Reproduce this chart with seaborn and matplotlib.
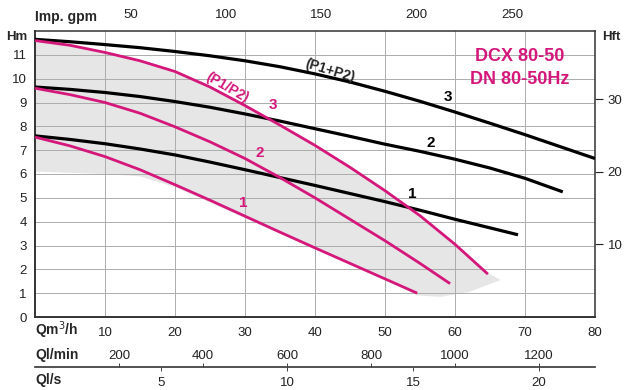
import numpy as np
import pandas as pd
import matplotlib
matplotlib.use("Agg")
import matplotlib.pyplot as plt
import seaborn as sns

# ---------------- data ----------------
q_black3 = [0, 5, 10, 15, 20, 25, 30, 35, 40, 45, 50, 55, 60, 65, 70, 75, 80]
h_black3 = [11.65, 11.55, 11.43, 11.3, 11.14, 10.96, 10.75, 10.5, 10.2, 9.86, 9.47, 9.05, 8.6, 8.13, 7.65, 7.15, 6.65]
q_black2 = [0, 5, 10, 15, 20, 25, 30, 35, 40, 45, 50, 55, 60, 65, 70, 75.4]
h_black2 = [9.65, 9.55, 9.42, 9.25, 9.04, 8.8, 8.52, 8.22, 7.9, 7.58, 7.25, 6.95, 6.62, 6.25, 5.82, 5.25]
q_black1 = [0, 5, 10, 15, 20, 25, 30, 35, 40, 45, 50, 55, 60, 65, 69]
h_black1 = [7.6, 7.45, 7.27, 7.05, 6.8, 6.5, 6.18, 5.85, 5.52, 5.18, 4.84, 4.48, 4.1, 3.74, 3.45]

q_pink3 = [0, 5, 10, 15, 20, 25, 30, 35, 40, 45, 50, 55, 60, 64.7]
h_pink3 = [11.6, 11.4, 11.1, 10.75, 10.3, 9.65, 8.87, 8.05, 7.2, 6.28, 5.3, 4.25, 3.05, 1.8]
q_pink2 = [0, 5, 10, 15, 20, 25, 30, 35, 40, 45, 50, 55, 59.3]
h_pink2 = [9.6, 9.33, 9.0, 8.55, 7.98, 7.35, 6.65, 5.85, 5.0, 4.1, 3.2, 2.25, 1.4]
q_pink1 = [0, 5, 10, 15, 20, 25, 30, 35, 40, 45, 50, 54.6]
h_pink1 = [7.55, 7.18, 6.73, 6.18, 5.55, 4.9, 4.23, 3.56, 2.9, 2.25, 1.6, 1.0]

# shaded operating area (upper edge then lower edge)
shade_upper_q = [0, 5, 10, 15, 20, 25, 30, 35, 40, 45, 50, 55, 60, 64.7, 66.5]
shade_upper_h = [11.62, 11.43, 11.14, 10.8, 10.35, 9.7, 8.92, 8.1, 7.25, 6.33, 5.35, 4.3, 3.1, 1.85, 1.55]
shade_lower_q = [0, 10, 15, 20, 30, 40, 50, 54.6, 58, 62]
shade_lower_h = [6.1, 6.0, 5.9, 5.45, 4.15, 2.85, 1.55, 0.9, 0.85, 1.05]

q_ticks = [10, 20, 30, 40, 50, 60, 70, 80]
h_ticks = list(range(0, 12))
hft_ticks = [10, 20, 30]
gpm_ticks = [50, 100, 150, 200, 250]
lmin_ticks = [200, 400, 600, 800, 1000, 1200]
ls_ticks = [5, 10, 15, 20]

black_curves = {"3": (q_black3, h_black3), "2": (q_black2, h_black2), "1": (q_black1, h_black1)}
pink_curves = {"3": (q_pink3, h_pink3), "2": (q_pink2, h_pink2), "1": (q_pink1, h_pink1)}

PINK = "#d5177b"

sns.set_style("white")
plt.rcParams["font.family"] = ["Liberation Sans", "DejaVu Sans"]

fig = plt.figure(figsize=(6.24, 3.90), dpi=100)
ax = fig.add_axes([35 / 624, (390 - 317) / 390, 560 / 624, 286 / 390])

# shaded area
poly_q = shade_upper_q + shade_lower_q[::-1]
poly_h = shade_upper_h + shade_lower_h[::-1]
ax.fill(poly_q, poly_h, color="#e6e6e6", lw=0, zorder=0.2)

def to_df(curves):
    rows = []
    for name, (qs, hs) in curves.items():
        for qv, hv in zip(qs, hs):
            rows.append({"Q": qv, "H": hv, "curve": name})
    return pd.DataFrame(rows)

df_b = to_df(black_curves)
df_p = to_df(pink_curves)
sns.lineplot(data=df_b, x="Q", y="H", hue="curve", palette={"1": "black", "2": "black", "3": "black"},
             sort=False, estimator=None, legend=False, lw=2.3, ax=ax, zorder=3,
             solid_joinstyle="round", solid_capstyle="butt")
sns.lineplot(data=df_p, x="Q", y="H", hue="curve", palette={"1": PINK, "2": PINK, "3": PINK},
             sort=False, estimator=None, legend=False, lw=2.0, ax=ax, zorder=4,
             solid_joinstyle="round", solid_capstyle="butt")

ax.set_xlim(0, 80)
ax.set_ylim(0, 12)
ax.set_xticks(q_ticks)
ax.set_yticks(h_ticks)
ax.set_xlabel("")
ax.set_ylabel("")
ax.set_axisbelow(True)
ax.grid(True, color="#acacac", lw=0.7)
ax.tick_params(axis="both", length=0, labelsize=9.5, colors="#222222")
ax.tick_params(axis="x", pad=7)
ax.tick_params(axis="y", pad=6)
for s in ax.spines.values():
    s.set_color("#333333")
    s.set_linewidth(1.1)
ax.spines["left"].set_linewidth(1.4)
ax.spines["bottom"].set_linewidth(1.4)

# top: imperial gpm
GPM = 1000 / 60 / 4.54609
top = ax.secondary_xaxis("top", functions=(lambda q: q * GPM, lambda g: g / GPM))
top.set_xticks(gpm_ticks)
top.tick_params(length=0, pad=7, labelsize=9.5, colors="#222222")
top.spines["top"].set_visible(False)

# right: feet
FT = 0.3048
right = ax.secondary_yaxis("right", functions=(lambda h: h / FT, lambda f: f * FT))
right.set_yticks(hft_ticks)
right.tick_params(length=6, width=0.8, pad=3, labelsize=9.5, colors="#222222")
right.spines["right"].set_visible(False)

# bottom extra scales
loc = (317 - 367) / 286
lmin = ax.secondary_xaxis(loc, functions=(lambda q: q * 1000 / 60, lambda l: l * 60 / 1000))
lmin.set_alignment("top")
lmin.set_xticks(lmin_ticks)
lmin.tick_params(length=3, width=0.6, pad=0.5, labelsize=9.5, colors="#222222")
for s in lmin.spines.values():
    s.set_visible(False)

ls = ax.secondary_xaxis(loc, functions=(lambda q: q / 3.6, lambda v: v * 3.6))
ls.set_xticks(ls_ticks)
ls.tick_params(length=3, width=0.6, pad=4, labelsize=9.5, colors="#222222")
ls.spines["bottom"].set_color("#444444")
ls.spines["bottom"].set_linewidth(1.3)

# axis titles
ax.text(-0.032, 0.978, "Hm", transform=ax.transAxes, ha="center", va="center",
        fontsize=9.5, fontweight="bold")
ax.text(1.03, 0.978, "Hft", transform=ax.transAxes, ha="center", va="center",
        fontsize=9.5, fontweight="bold")
ax.text(0.0, 1.049, "Imp. gpm", transform=ax.transAxes, ha="left", va="center",
        fontsize=10, fontweight="bold")
ax.text(0.0, -0.045, "Qm$^3$/h", transform=ax.transAxes, ha="left", va="center",
        fontsize=10, fontweight="bold")
ax.text(0.0, -0.133, "Ql/min", transform=ax.transAxes, ha="left", va="center",
        fontsize=10, fontweight="bold")
ax.text(0.0, -0.22, "Ql/s", transform=ax.transAxes, ha="left", va="center",
        fontsize=10, fontweight="bold")

# curve labels
ax.text(42.1, 10.35, "(P1+P2)", rotation=-17, ha="center", va="center", fontsize=10, fontweight="bold")
ax.text(27.4, 9.62, "(P1/P2)", rotation=-30, ha="center", va="center", fontsize=10,
        fontweight="bold", color=PINK)
for (xq, yh, t) in [(59.0, 9.23, "3"), (56.6, 7.3, "2"), (53.9, 5.16, "1")]:
    ax.text(xq, yh, t, ha="center", va="center", fontsize=11, fontweight="bold", color="black")
for (xq, yh, t) in [(34.0, 8.9, "3"), (32.1, 6.88, "2"), (29.7, 4.78, "1")]:
    ax.text(xq, yh, t, ha="center", va="center", fontsize=11, fontweight="bold", color=PINK)

ax.text(69.3, 10.95, "DCX 80-50", ha="center", va="center", fontsize=13, fontweight="bold", color=PINK)
ax.text(69.3, 9.95, "DN 80-50Hz", ha="center", va="center", fontsize=13, fontweight="bold", color=PINK)

fig.savefig("out.png", dpi=100, facecolor="white")
